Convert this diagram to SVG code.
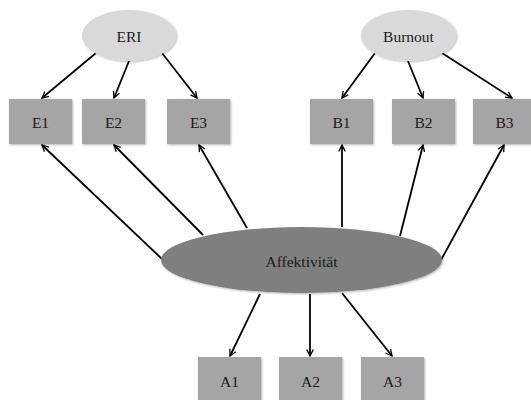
<svg xmlns="http://www.w3.org/2000/svg" width="531" height="400" viewBox="0 0 531 400">
  <style>
    .lbl { font-family: "Liberation Serif", "Times New Roman", serif; font-size: 15.5px; fill: #1a1a1a; text-anchor: middle; dominant-baseline: central; }
    .ind { fill: #a5a5a5; }
    .lat { fill: #d9d9d9; }
    .core { fill: #7f7f7f; }
    .edge { stroke: #000; stroke-width: 1.8; fill: none; marker-end: url(#arr); }
  </style>
  <defs>
    <marker id="arr" viewBox="0 0 10 10" refX="9" refY="5" markerWidth="8" markerHeight="8" orient="auto" markerUnits="userSpaceOnUse">
      <path d="M1,1 L9,5 L1,9" fill="none" stroke="#000" stroke-width="1.6"/>
    </marker>
    <filter id="sh" x="-10%" y="-10%" width="125%" height="130%">
      <feGaussianBlur in="SourceAlpha" stdDeviation="1.2"/>
      <feOffset dx="0.5" dy="1.2" result="b"/>
      <feComponentTransfer><feFuncA type="linear" slope="0.3"/></feComponentTransfer>
      <feMerge><feMergeNode/><feMergeNode in="SourceGraphic"/></feMerge>
    </filter>
  </defs>
  <rect width="531" height="400" fill="#fff"/>

  <g id="connectors">
    <!-- ERI loadings -->
    <line class="edge" x1="96" y1="53" x2="42" y2="98"/>
    <line class="edge" x1="129" y1="61" x2="114" y2="98"/>
    <line class="edge" x1="162" y1="53" x2="197" y2="98"/>
    <!-- Burnout loadings -->
    <line class="edge" x1="375" y1="53" x2="342" y2="98"/>
    <line class="edge" x1="408" y1="61" x2="423" y2="98"/>
    <line class="edge" x1="442" y1="53" x2="512" y2="98"/>
    <!-- Affektivitaet to E and B indicators -->
    <line class="edge" x1="162" y1="259" x2="42" y2="145"/>
    <line class="edge" x1="203" y1="235" x2="114" y2="145"/>
    <line class="edge" x1="247" y1="228" x2="199" y2="145"/>
    <line class="edge" x1="342" y1="227" x2="342" y2="145"/>
    <line class="edge" x1="400" y1="236" x2="423" y2="145"/>
    <line class="edge" x1="441" y1="260" x2="504" y2="145"/>
    <!-- Affektivitaet to A indicators -->
    <line class="edge" x1="260" y1="294" x2="230" y2="356"/>
    <line class="edge" x1="310" y1="294" x2="310" y2="356"/>
    <line class="edge" x1="342" y1="293" x2="392" y2="356"/>
  </g>

  <g id="ERI"><ellipse class="lat" filter="url(#sh)" cx="129" cy="35.5" rx="47" ry="25.5"/><text class="lbl" x="129" y="36">ERI</text></g>
  <g id="Burnout"><ellipse class="lat" filter="url(#sh)" cx="408.5" cy="35.5" rx="47.5" ry="25.5"/><text class="lbl" x="408.5" y="36">Burnout</text></g>

  <g id="E1"><rect class="ind" filter="url(#sh)" x="9" y="99" width="63" height="45"/><text class="lbl" x="40.5" y="122">E1</text></g>
  <g id="E2"><rect class="ind" filter="url(#sh)" x="82" y="99" width="63" height="45"/><text class="lbl" x="113.5" y="122">E2</text></g>
  <g id="E3"><rect class="ind" filter="url(#sh)" x="167" y="99" width="63" height="45"/><text class="lbl" x="198.5" y="122">E3</text></g>
  <g id="B1"><rect class="ind" filter="url(#sh)" x="310" y="99" width="63" height="45"/><text class="lbl" x="341.5" y="122">B1</text></g>
  <g id="B2"><rect class="ind" filter="url(#sh)" x="392" y="99" width="63" height="45"/><text class="lbl" x="423.5" y="122">B2</text></g>
  <g id="B3"><rect class="ind" filter="url(#sh)" x="473" y="99" width="63" height="45"/><text class="lbl" x="504.5" y="122">B3</text></g>

  <g id="Affektivitaet"><ellipse class="core" filter="url(#sh)" cx="301.5" cy="260" rx="140.5" ry="33"/><text class="lbl" x="301.5" y="261">Affektivität</text></g>

  <g id="A1"><rect class="ind" filter="url(#sh)" x="198" y="357" width="63" height="46"/><text class="lbl" x="229.5" y="381">A1</text></g>
  <g id="A2"><rect class="ind" filter="url(#sh)" x="279" y="357" width="63" height="46"/><text class="lbl" x="310.5" y="381">A2</text></g>
  <g id="A3"><rect class="ind" filter="url(#sh)" x="361" y="357" width="63" height="46"/><text class="lbl" x="392.5" y="381">A3</text></g>
</svg>
